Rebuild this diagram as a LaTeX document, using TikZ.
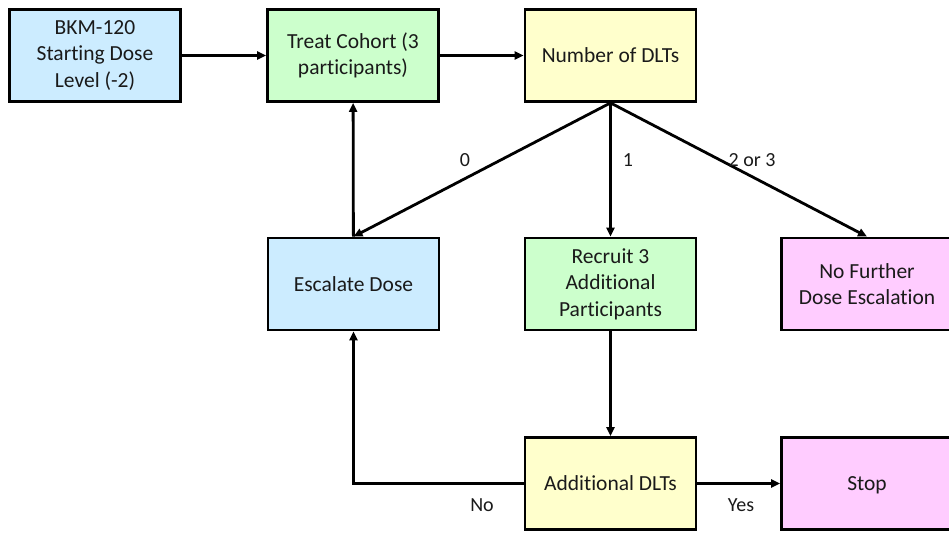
\documentclass[tikz,border=0pt]{standalone}
\usepackage{fontspec}
\setmainfont{Carlito}[Ligatures={NoCommon}]
\usetikzlibrary{arrows.meta}
\definecolor{cblue}{HTML}{CCECFF}
\definecolor{cgreen}{HTML}{CCFFCC}
\definecolor{cyellow}{HTML}{FFFFCC}
\definecolor{cpink}{HTML}{FFCCFF}
\definecolor{ctext}{HTML}{1A1A1A}
\begin{document}
\begin{tikzpicture}[x=1pt,y=-1pt,
  box/.style={draw=black,line width=2.8pt,minimum width=171pt,minimum height=92pt,
    align=center,inner sep=2pt,text=ctext,font=\fontsize{21.5}{26.5}\selectfont},
  oneline/.style={text height=14pt,text depth=0pt},
  conn/.style={line width=2.8pt,-{Triangle[length=9pt,width=8pt]}},
  lbl/.style={text=ctext,font=\fontsize{20}{24}\selectfont,inner sep=0pt}]
\useasboundingbox (0,0) rectangle (949,533);
\clip (0,0) rectangle (949,533);
\fill[white] (0,0) rectangle (949,533);
\node[box,fill=cblue] (bkm) at (95,55.5) {BKM-120\\Starting Dose\\Level (-2)};
\node[box,fill=cgreen] (treat) at (353,55.5) {Treat Cohort (3\\participants)};
\node[box,oneline,fill=cyellow] (num) at (610.5,55.5) {Number of DLTs};
\node[box,oneline,fill=cblue] (esc) at (353.5,284) {Escalate Dose};
\node[box,fill=cgreen] (rec) at (610.5,284) {Recruit 3\\Additional\\Participants};
\node[box,fill=cpink] (nofur) at (867,284) {No Further\\Dose Escalation};
\node[box,oneline,fill=cyellow] (add) at (610.5,483.5) {Additional DLTs};
\node[box,oneline,fill=cpink] (stop) at (867,483.5) {Stop};
\draw[conn] (bkm) -- (treat);
\draw[conn] (treat) -- (num);
\draw[conn] (num.south) -- (esc.north);
\draw[conn] (num.south) -- (rec.north);
\draw[conn] (num.south) -- (nofur.north);
\draw[conn] (esc) -- (treat);
\draw[conn] (rec) -- (add);
\draw[conn] (add.west) -| (esc.south);
\draw[conn] (add) -- (stop);
\node[lbl] (l0) at (465,160) {0};
\node[lbl] (l1) at (628,160) {1};
\node[lbl] (l23) at (752,160) {2 or 3};
\node[lbl] (lno) at (482,505) {No};
\node[lbl] (lyes) at (741,505) {Yes};
\end{tikzpicture}
\end{document}
